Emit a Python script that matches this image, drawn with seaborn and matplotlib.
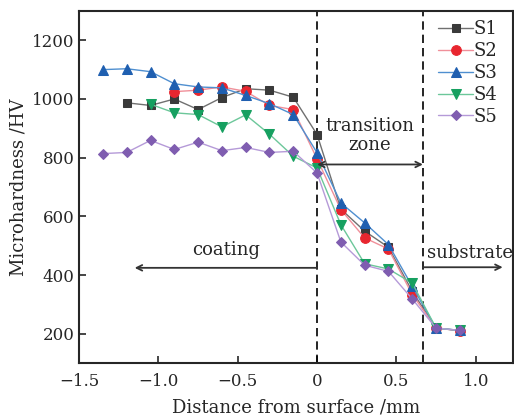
import numpy as np
import pandas as pd
import matplotlib
matplotlib.use('Agg')
import matplotlib.pyplot as plt
import seaborn as sns

# distance from surface (mm), one point every 0.15 mm
x_s1 = [-1.2, -1.05, -0.9, -0.75, -0.6, -0.45, -0.3, -0.15, 0, 0.15, 0.3, 0.45, 0.6, 0.75, 0.9]
x_s2 = [-0.9, -0.75, -0.6, -0.45, -0.3, -0.15, 0, 0.15, 0.3, 0.45, 0.6, 0.75, 0.9]
x_s3 = [-1.35, -1.2, -1.05, -0.9, -0.75, -0.6, -0.45, -0.3, -0.15, 0, 0.15, 0.3, 0.45, 0.6, 0.75, 0.9]
x_s4 = [-1.05, -0.9, -0.75, -0.6, -0.45, -0.3, -0.15, 0, 0.15, 0.3, 0.45, 0.6, 0.75, 0.9]
x_s5 = [-1.35, -1.2, -1.05, -0.9, -0.75, -0.6, -0.45, -0.3, -0.15, 0, 0.15, 0.3, 0.45, 0.6, 0.75, 0.9]

# microhardness (HV)
hv_s1 = [987, 978, 1000, 964, 1005, 1035, 1030, 1006, 879, 625, 550, 495, 345, 220, 211]
hv_s2 = [1025, 1030, 1041, 1026, 978, 964, 796, 623, 527, 489, 334, 220, 211]
hv_s3 = [1100, 1103, 1093, 1052, 1041, 1038, 1012, 984, 947, 817, 646, 578, 504, 362, 220, 212]
hv_s4 = [982, 953, 947, 905, 946, 880, 805, 765, 572, 439, 421, 373, 220, 212]
hv_s5 = [814, 818, 859, 828, 853, 824, 835, 818, 822, 748, 513, 434, 413, 319, 220, 212]

labels = ['S1', 'S2', 'S3', 'S4', 'S5']
xs = [x_s1, x_s2, x_s3, x_s4, x_s5]
ys = [hv_s1, hv_s2, hv_s3, hv_s4, hv_s5]

marker_colors = ['#3a3a3a', '#e8262f', '#1f5fb0', '#16a060', '#7f5db0']
line_colors = ['#707070', '#f0909a', '#4f8fd0', '#6cc79a', '#b59ad8']
markers = ['s', 'o', '^', 'v', 'D']
msizes = [5.5, 7, 7, 7, 5.5]

sns.set_style('ticks')
plt.rcParams['font.family'] = ['DejaVu Serif']
plt.rcParams['mathtext.fontset'] = 'dejavuserif'

fig, ax = plt.subplots(figsize=(5.14, 4.19), dpi=100)
fig.subplots_adjust(left=0.154, right=0.998, bottom=0.133, top=0.974)

for lab, x, y, mc, lc, m, ms in zip(labels, xs, ys, marker_colors, line_colors, markers, msizes):
    df = pd.DataFrame({'x': x, 'hv': y})
    sns.lineplot(data=df, x='x', y='hv', ax=ax, color=lc, lw=1.0, marker=m,
                 markersize=ms, markerfacecolor=mc, markeredgecolor=mc, label=lab)

# zone boundaries
for xb in [0, 0.667]:
    ax.axvline(xb, color='black', ls=(0, (5, 3)), lw=1.2, zorder=1)

arrow = dict(arrowstyle='->', color='#333333', lw=1.3, shrinkA=0, shrinkB=0)
ax.annotate('', xy=(-1.15, 425), xytext=(0, 425), arrowprops=arrow)
ax.text(-0.575, 487, 'coating', ha='center', va='center', fontsize=13)
ax.annotate('', xy=(0.667, 777), xytext=(0, 777),
            arrowprops=dict(arrowstyle='<->', color='#333333', lw=1.3, shrinkA=0, shrinkB=0))
ax.text(0.333, 875, 'transition\nzone', ha='center', va='center', fontsize=13, linespacing=1.1)
ax.annotate('', xy=(1.17, 427), xytext=(0.667, 427), arrowprops=arrow)
ax.text(0.965, 477, 'substrate', ha='center', va='center', fontsize=13)

ax.set_xlim(-1.5, 1.235)
ax.set_ylim(100, 1300)
ax.set_xticks([-1.5, -1.0, -0.5, 0, 0.5, 1.0])
ax.set_xticklabels(['\u22121.5', '\u22121.0', '\u22120.5', '0', '0.5', '1.0'])
ax.set_yticks([200, 400, 600, 800, 1000, 1200])
ax.tick_params(direction='in', length=5, width=1.2, labelsize=12)
ax.tick_params(axis='x', pad=7)
for s in ax.spines.values():
    s.set_linewidth(1.5)

ax.set_xlabel('Distance from surface /mm', fontsize=13, labelpad=6)
ax.set_ylabel('Microhardness /HV', fontsize=13, labelpad=3)

ax.legend(loc='upper right', bbox_to_anchor=(0.985, 1.0), frameon=False, fontsize=13,
          handlelength=1.9, handletextpad=0.05, labelspacing=0.22, borderaxespad=0.1)

fig.savefig('out.png', dpi=100)
